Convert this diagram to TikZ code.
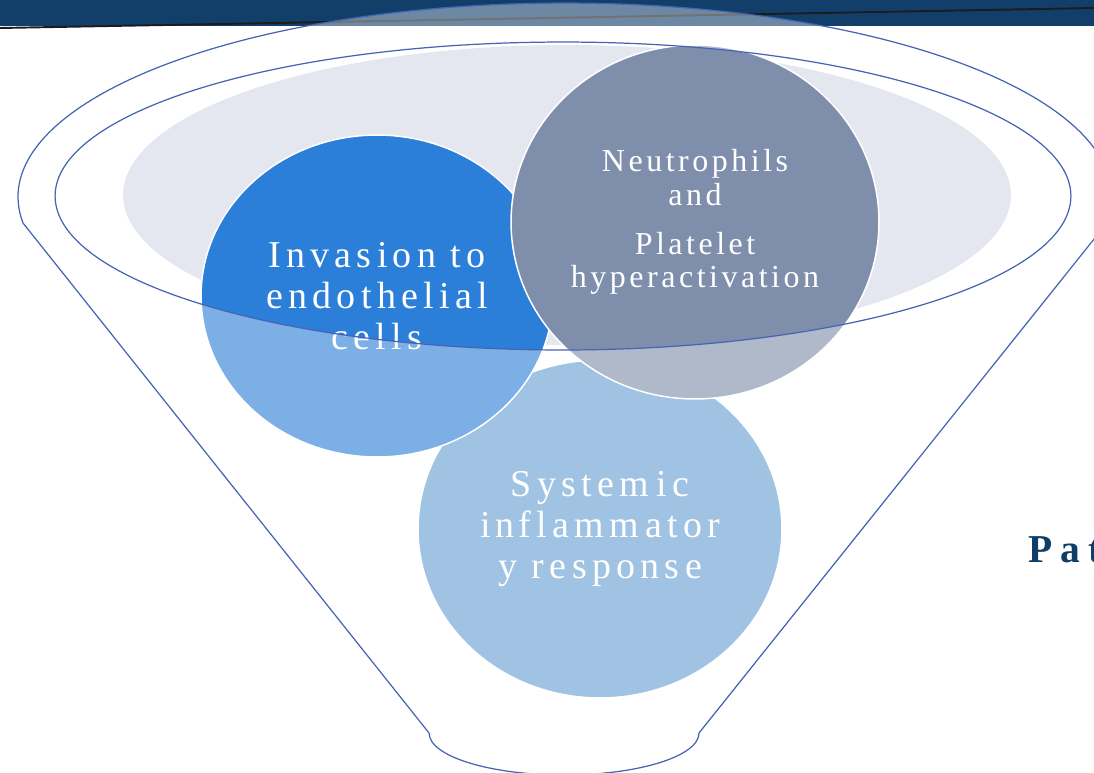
\documentclass[tikz,border=0pt]{standalone}
\usepackage{fontspec}
\setmainfont{Liberation Serif}
\newfontfamily\bubblefont[LetterSpace=14]{Liberation Serif}
\newfontfamily\smallbubblefont[LetterSpace=11]{Liberation Serif}
\newfontfamily\titlefont[LetterSpace=20]{Liberation Serif}
\usetikzlibrary{shapes.geometric}
\definecolor{banner}{HTML}{123F6A}
\definecolor{seam}{HTML}{1C1C1C}
\definecolor{rimblue}{HTML}{4664B4}
\definecolor{platter}{HTML}{E4E7EF}
\definecolor{invblue}{HTML}{2B7FD8}
\definecolor{neutgrey}{HTML}{7F8FAB}
\definecolor{sysblue}{HTML}{669ED3}
\definecolor{titleblue}{HTML}{0F3D68}
\tikzset{
  bubble/.style ={ellipse, draw=white, line width=0.85pt, inner sep=0pt, text=white, align=center},
  rim/.style ={draw=rimblue, line width=0.7pt}
}

\begin{document}
\begin{tikzpicture}[line cap=round,line join=round,x=0.02cm,y=-0.02cm]
\useasboundingbox (0,0) rectangle (1094,772);
\clip (0,0) rectangle (1094,772);
\fill[banner] (0,0) rectangle (1094,26);
\draw[seam, line width=1.1pt] (0,28) -- (1094,8);
\node[ellipse, fill=platter, minimum width=17.76cm, minimum height=6cm] (plate) at (567,195) {};
\node[bubble, fill=sysblue, minimum width=7.28cm, minimum height=6.76cm, font=\bubblefont\fontsize{21.6}{23.3}\selectfont] (systemic) at (600,529) {System\hspace{0.2em}ic\\ in\hspace{0.1em}flam\hspace{0.15em}m\hspace{0.15em}ator\\ y response};
\node[bubble, fill=invblue, minimum width=7.04cm, minimum height=6.44cm, font=\bubblefont\fontsize{21.6}{23.3}\selectfont] (invasion) at (377,296) {Invasion to\\ endothelial\\ cells};
\node[bubble, fill=neutgrey, minimum width=7.36cm, minimum height=7.08cm, font=\smallbubblefont\fontsize{18.2}{19.3}\selectfont] (neutro) at (695,222) {Neutrophils\\ and\\[8.5pt] Platelet\\ hyperactivation};
\filldraw[rim, fill=white, fill opacity=0.38, draw opacity=1, even odd rule]
  (23,223) arc[start angle=187.7, end angle=-7.7, x radius=10.94cm, y radius=3.88cm]
  -- (699,733) arc[start angle=0, end angle=-180, x radius=2.7cm, y radius=0.84cm] -- cycle
  (563,196) ellipse[x radius=10.16cm, y radius=3.08cm];
\node[anchor=base west, inner sep=0pt, text=titleblue, font=\titlefont\bfseries\fontsize{22.5}{26}\selectfont] (title) at (1028,562) {Pat};
\end{tikzpicture}
\end{document}
